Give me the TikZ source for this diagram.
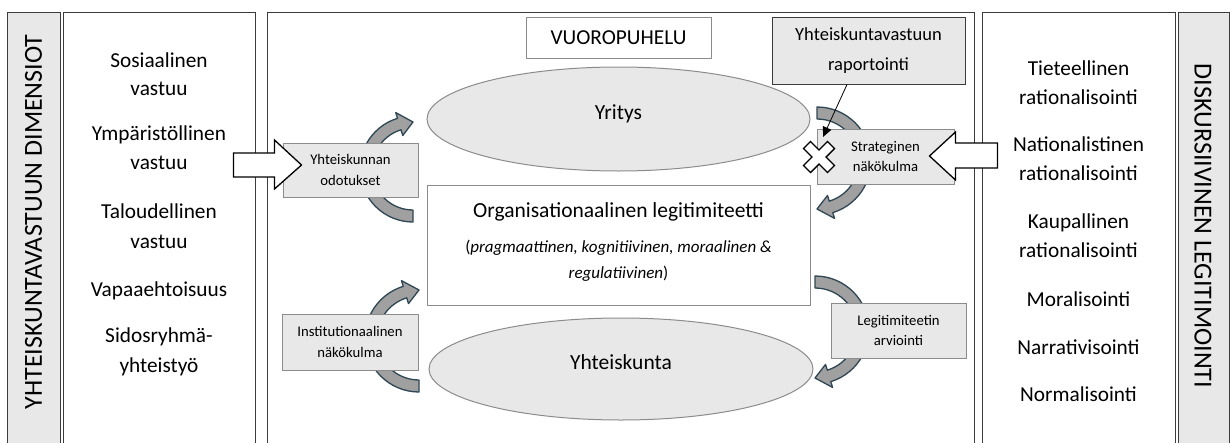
\documentclass[tikz,border=0pt]{standalone}
\usepackage{fontspec}
\setmainfont{Carlito}
\usetikzlibrary{calc,arrows.meta,shapes.geometric}
\definecolor{boxgray}{RGB}{232,232,232}
\definecolor{edgegray}{RGB}{140,140,140}
\definecolor{darkedge}{RGB}{60,60,60}
\definecolor{arrfill}{RGB}{160,160,160}
\definecolor{arredge}{RGB}{47,70,84}
\newcommand\fitem{\fontsize{21.3pt}{25pt}\selectfont}
\newcommand\ftitle{\fontsize{26pt}{30pt}\selectfont}
\newcommand\fsmall{\fontsize{14.7pt}{20.5pt}\selectfont}
\newcommand\frap{\fontsize{18.5pt}{30pt}\selectfont}
\newcommand\fbig{\fontsize{21.5pt}{26pt}\selectfont}
\newcommand\fital{\fontsize{17pt}{26pt}\selectfont}
\newcommand\curvarr[5]{%
\filldraw[curv] plot[domain=#3:#4-17,samples=30] ({#1+(#5-6)*cos(\x)},{#2+(#5-6)*sin(\x)})
 -- ({#1+(#5-12)*cos(#4-17)},{#2+(#5-12)*sin(#4-17)})
 -- ({#1+#5*cos(#4)},{#2+#5*sin(#4)})
 -- ({#1+(#5+12)*cos(#4-17)},{#2+(#5+12)*sin(#4-17)})
 -- plot[domain=#4-17:#3,samples=30] ({#1+(#5+6)*cos(\x)},{#2+(#5+6)*sin(\x)})
 -- cycle;}
\begin{document}
\begin{tikzpicture}[x=1pt,y=-1pt,
  colbox/.style={draw=darkedge,line width=1pt,fill=white,anchor=north west,minimum height=480pt,inner sep=0pt},
  titlebox/.style={colbox,fill=boxgray},
  itemtxt/.style={font=\fitem,anchor=base,inner sep=0pt},
  smallbox/.style={draw=edgegray,line width=1pt,fill=boxgray,font=\fsmall,align=center,inner sep=0pt},
  whitebox/.style={draw=edgegray,line width=1pt,fill=white,inner sep=0pt},
  ellnode/.style={ellipse,draw=edgegray,line width=1pt,fill=boxgray,font=\fbig,inner sep=0pt,text height=14pt,text depth=14pt},
  curv/.style={fill=arrfill,draw=arredge,line width=1.3pt,line join=round},
  blockarrow/.style={fill=white,draw=black,line width=1.3pt,line join=miter},
  thinarrow/.style={draw=black,line width=0.8pt,-{Triangle[length=10pt,width=9pt]}},
  xmark/.style={fill=white,draw=black,line width=1.3pt,line join=miter}]
\useasboundingbox (0,0) rectangle (1231,442);
\clip (0,0) rectangle (1231,442);
\fill[white] (0,0) rectangle (1231,442);
% columns
\node[titlebox,minimum width=53pt] (ltitlebox) at (7,12) {};
\node[colbox,minimum width=192pt] (lcol) at (63,12) {};
\node[colbox,minimum width=707.5pt] (mid) at (266.5,12) {};
\node[colbox,minimum width=193pt] (rcol) at (982,12) {};
\node[titlebox,minimum width=51pt] (rtitlebox) at (1178,12) {};
\node[rotate=90,font=\ftitle,inner sep=0pt] (ltitle) at (33.5,222) {YHTEISKUNTAVASTUUN DIMENSIOT};
\node[rotate=-90,font=\ftitle,inner sep=0pt] (rtitle) at (1203,226) {DISKURSIIVINEN LEGITIMOINTI};
% left items
\node[itemtxt] (l1) at (159,67) {Sosiaalinen};
\node[itemtxt] (l2) at (159,95) {vastuu};
\node[itemtxt] (l3) at (159,140) {Ympäristöllinen};
\node[itemtxt] (l4) at (159,169) {vastuu};
\node[itemtxt] (l5) at (159,218) {Taloudellinen};
\node[itemtxt] (l6) at (159,248) {vastuu};
\node[itemtxt] (l7) at (159,296) {Vapaaehtoisuus};
\node[itemtxt] (l8) at (159,342) {Sidosryhmä-};
\node[itemtxt] (l9) at (159,372) {yhteistyö};
% right items
\node[itemtxt] (r1) at (1078.5,75) {Tieteellinen};
\node[itemtxt] (r2) at (1078.5,104) {rationalisointi};
\node[itemtxt] (r3) at (1078.5,151) {Nationalistinen};
\node[itemtxt] (r4) at (1078.5,180) {rationalisointi};
\node[itemtxt] (r5) at (1078.5,228) {Kaupallinen};
\node[itemtxt] (r6) at (1078.5,257) {rationalisointi};
\node[itemtxt] (r7) at (1078.5,306) {Moralisointi};
\node[itemtxt] (r8) at (1078.5,354) {Narrativisointi};
\node[itemtxt] (r9) at (1078.5,401) {Normalisointi};
% middle
\node[whitebox,minimum width=185pt,minimum height=41pt,font=\fitem] (vuoro) at (618.5,37.5) {VUOROPUHELU};
\node[smallbox,draw=darkedge,minimum width=193pt,minimum height=67pt,font=\frap] (rap) at (868.5,50.5) {Yhteiskuntavastuun\\raportointi};
\node[ellnode,minimum width=383pt,minimum height=104pt] (yritys) at (618.5,119) {Yritys};
\node[ellnode,minimum width=384pt,minimum height=102pt] (yhteis) at (621,369) {Yhteiskunta};
\node[whitebox,minimum width=383pt,minimum height=120pt] (org) at (618.5,245) {};
\node[font=\fbig,anchor=base,inner sep=0pt] (orgt1) at (618.5,217) {Organisationaalinen legitimiteetti};
\node[font=\fital,anchor=base,inner sep=0pt] (orgt2) at (618.5,252) {(\textit{pragmaattinen, kognitiivinen, moraalinen \&}};
\node[font=\fital,anchor=base,inner sep=0pt] (orgt3) at (618.5,278) {\textit{regulatiivinen})};
% curved arrows
\curvarr{413}{169}{90}{270}{47}
\curvarr{817}{161}{-90}{90}{48}
\curvarr{419}{338}{90}{270}{48}
\curvarr{815}{330}{-90}{90}{48}
% small boxes
\node[smallbox,minimum width=135pt,minimum height=54pt] (odot) at (350.5,170) {Yhteiskunnan\\odotukset};
\node[smallbox,minimum width=137pt,minimum height=55pt] (strat) at (885.5,156.5) {Strateginen\\näkökulma};
\node[smallbox,minimum width=136pt,minimum height=56pt] (inst) at (350,342) {Institutionaalinen\\näkökulma};
\node[smallbox,minimum width=135pt,minimum height=55pt] (legit) at (898.5,330.5) {Legitimiteetin\\arviointi};
% block arrows
\coordinate (ltip) at ($(odot.west)+(19,-5)$);
\coordinate (rtip) at ($(strat.east)+(-25,-0.5)$);
\draw[blockarrow] (ltip) -- ++(-27,-25) -- ++(0,13) -- ++(-41,0) -- ++(0,24) -- ++(41,0) -- ++(0,12) -- cycle;
\draw[blockarrow] (rtip) -- ++(26,-24) -- ++(0,11) -- ++(42,0) -- ++(0,25) -- ++(-42,0) -- ++(0,12) -- cycle;
% X mark
\draw[xmark,shift={(819,157)},rotate=45] (-5,-17) -- (5,-17) -- (5,-5) -- (17,-5) -- (17,5) -- (5,5) -- (5,17) -- (-5,17) -- (-5,5) -- (-17,5) -- (-17,-5) -- (-5,-5) -- cycle;
% thin arrow
\coordinate (rapfoot) at ($(rap.south)+(-21.5,0)$);
\coordinate (xtarget) at (823,137);
\draw[thinarrow] (rapfoot) -- (xtarget);
\end{tikzpicture}
\end{document}
